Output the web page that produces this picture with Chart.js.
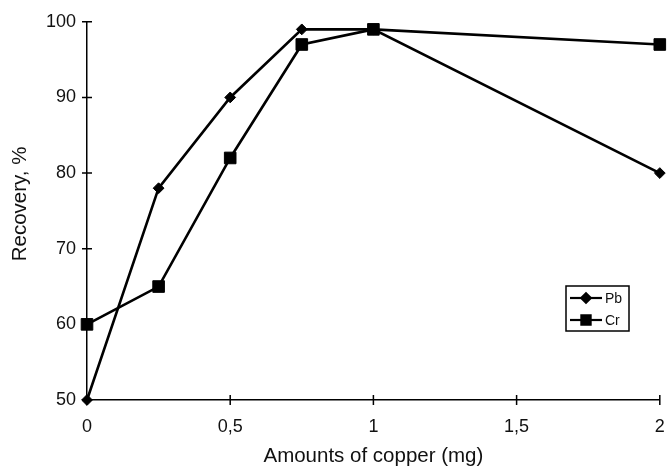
<!DOCTYPE html>
<html>
<head>
<meta charset="utf-8">
<script src="https://cdn.jsdelivr.net/npm/chart.js@4"></script>
<style>
  body { margin: 0; background: #fff; }
  canvas { display: block; }
</style>
</head>
<body>
<canvas id="myChart" width="669" height="469"></canvas>
<script>
// data
let copperAmounts = [0, 0.25, 0.5, 0.75, 1, 2];
let pbRecovery = [50, 78, 90, 99, 99, 80];
let crRecovery = [60, 65, 82, 97, 99, 97];
let xTickValues = [0, 0.5, 1, 1.5, 2];
let yTickValues = [50, 60, 70, 80, 90, 100];
let yTitle = 'Recovery, %';
let xTitle = 'Amounts of copper (mg)';

const fontFamily = "'Liberation Sans', Arial, sans-serif";

function toPoints(xs, ys) {
    let pts = [];
    for (let i = 0; i < xs.length; i++) {
        pts.push({ x: xs[i], y: ys[i] });
    }
    return pts;
}

// tick marks that cross the axis line, x labels (last one kept inside),
// the y title and the small boxed legend
const axisExtras = {
    id: 'axisExtras',
    afterDraw(chart) {
        const ctx = chart.ctx;
        const xs = chart.scales.x;
        const ys = chart.scales.y;
        const area = chart.chartArea;
        ctx.save();
        ctx.strokeStyle = '#000';
        ctx.lineWidth = 1.5;
        ctx.beginPath();
        xTickValues.forEach(v => {
            const px = xs.getPixelForValue(v);
            ctx.moveTo(px, area.bottom - 5);
            ctx.lineTo(px, area.bottom + 5);
        });
        yTickValues.forEach(v => {
            const py = ys.getPixelForValue(v);
            ctx.moveTo(area.left - 5, py);
            ctx.lineTo(area.left + 5, py);
        });
        ctx.stroke();

        ctx.fillStyle = '#111';
        ctx.font = '18px ' + fontFamily;
        ctx.textAlign = 'center';
        ctx.textBaseline = 'middle';
        xTickValues.forEach(v => {
            const label = String(v).replace('.', ',');
            const w = ctx.measureText(label).width;
            let px = xs.getPixelForValue(v);
            px = Math.min(px, chart.width - w / 2 - 4);
            ctx.fillText(label, px, area.bottom + 27);
        });

        // y title, a bit above the middle of the axis as in the original
        ctx.save();
        ctx.font = '20.5px ' + fontFamily;
        ctx.translate(20, (area.top + area.bottom) / 2 - 7);
        ctx.rotate(-Math.PI / 2);
        ctx.fillText(yTitle, 0, 0);
        ctx.restore();

        // legend box
        const bx = 566, by = 286, bw = 63, bh = 45;
        ctx.lineWidth = 1.5;
        ctx.strokeRect(bx, by, bw, bh);
        ctx.font = '14px ' + fontFamily;
        ctx.textAlign = 'left';
        chart.data.datasets.forEach((ds, i) => {
            const ly = by + 12 + i * 22;
            ctx.lineWidth = 2.2;
            ctx.beginPath();
            ctx.moveTo(bx + 4, ly);
            ctx.lineTo(bx + 36, ly);
            ctx.stroke();
            ctx.fillStyle = '#000';
            const r = ds.pointStyle === 'rect' ? 6.5 : 4.8;
            Chart.helpers.drawPoint(ctx, { pointStyle: ds.pointStyle, radius: r, borderWidth: 1 }, bx + 20, ly);
            ctx.fill();
            ctx.fillStyle = '#111';
            ctx.fillText(ds.label, bx + 39, ly + 1);
        });
        ctx.restore();
    }
};

const ctx = document.getElementById('myChart').getContext('2d');
const myChart = new Chart(ctx, {
    type: 'line',
    data: {
        datasets: [{
            label: 'Pb',
            data: toPoints(copperAmounts, pbRecovery),
            borderColor: '#000',
            backgroundColor: '#000',
            borderWidth: 2.6,
            pointStyle: 'rectRot',
            pointRadius: 5.4,
            pointBorderWidth: 1,
            pointBackgroundColor: '#000',
            pointBorderColor: '#000',
            tension: 0,
            clip: false
        }, {
            label: 'Cr',
            data: toPoints(copperAmounts, crRecovery),
            borderColor: '#000',
            backgroundColor: '#000',
            borderWidth: 2.6,
            pointStyle: 'rect',
            pointRadius: 8.2,
            pointBorderWidth: 1,
            pointBackgroundColor: '#000',
            pointBorderColor: '#000',
            tension: 0,
            clip: false
        }]
    },
    options: {
        responsive: false,
        animation: false,
        layout: {
            padding: { left: 0, right: 2, top: 21, bottom: 0 }
        },
        plugins: {
            legend: { display: false },
            tooltip: { enabled: false }
        },
        scales: {
            x: {
                type: 'linear',
                min: 0,
                max: 2,
                grid: { display: false, drawTicks: false },
                border: { color: '#000', width: 1.5 },
                ticks: { display: false, stepSize: 0.5 },
                title: {
                    display: true,
                    text: xTitle,
                    color: '#111',
                    font: { family: fontFamily, size: 20.5 },
                    padding: { top: 0, bottom: 0 }
                },
                afterFit(scale) { scale.height = 69; }
            },
            y: {
                min: 50,
                max: 100,
                grid: { display: false, drawTicks: false },
                border: { color: '#000', width: 1.5 },
                ticks: {
                    stepSize: 10,
                    padding: 11,
                    color: '#111',
                    font: { family: fontFamily, size: 18 }
                },
                afterFit(scale) { scale.width = 87; }
            }
        }
    },
    plugins: [axisExtras]
});
</script>
</body>
</html>
